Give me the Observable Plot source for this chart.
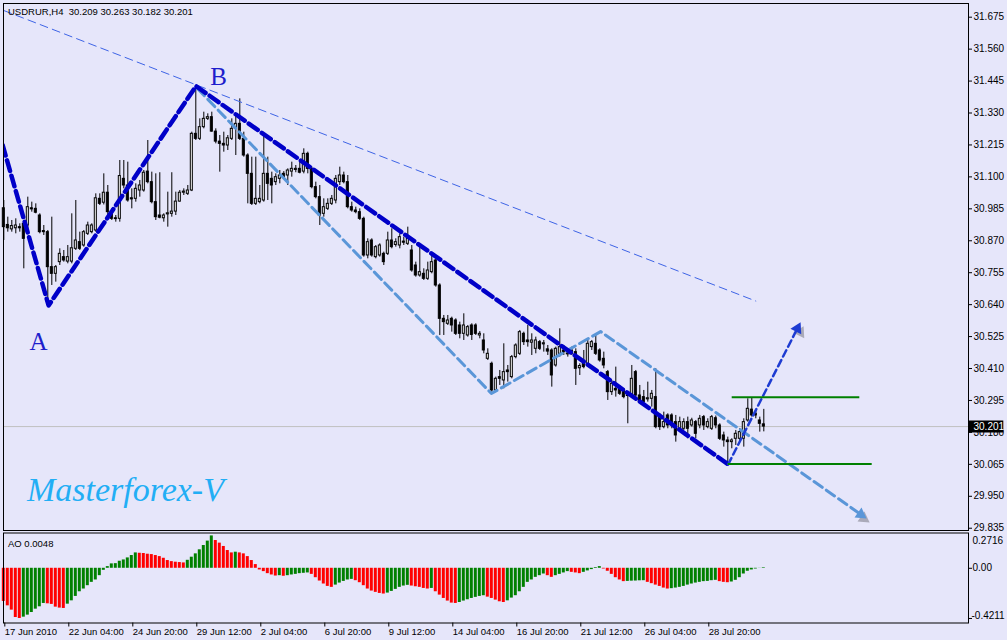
<!DOCTYPE html>
<html><head><meta charset="utf-8">
<script src="https://cdn.jsdelivr.net/npm/d3@7"></script>
<script src="https://cdn.jsdelivr.net/npm/@observablehq/plot@0.6"></script>
<style>
html,body{margin:0;padding:0;background:#E6E6FA;width:1007px;height:640px;overflow:hidden}
#chart svg{display:block}
</style></head><body><div id="chart"></div>
<script>
// ---------- data ----------
const headerText = "USDRUR,H4  30.209 30.263 30.182 30.201";
const open = [
30.987,30.927,30.911,30.915,30.919,30.931,30.925,30.987,30.985,30.961,
30.905,30.901,30.775,30.751,30.793,30.811,30.795,30.795,30.841,30.865,
30.853,30.895,30.901,30.907,31.021,31.007,31.043,30.975,30.951,30.949,
31.093,31.069,31.023,31.021,31.051,31.051,31.119,31.081,31.009,30.961,
30.951,30.965,30.967,30.975,31.011,31.043,31.039,31.051,31.255,31.237,
31.279,31.309,31.315,31.263,31.227,31.219,31.213,31.237,31.273,31.291,
31.237,31.177,31.111,31.003,31.009,31.015,31.111,31.093,31.081,31.093,
31.111,31.105,31.119,31.125,31.129,31.119,31.183,31.129,31.063,31.027,
30.967,30.985,31.003,31.015,31.081,31.105,31.081,30.991,30.979,30.973,
30.949,30.817,30.871,30.811,30.817,30.823,30.823,30.871,30.855,30.853,
30.867,30.859,30.835,30.781,30.745,30.751,30.733,30.757,30.799,30.709,
30.589,30.571,30.589,30.583,30.565,30.535,30.529,30.565,30.565,30.529,
30.511,30.445,30.427,30.331,30.379,30.367,30.403,30.379,30.451,30.463,
30.535,30.511,30.503,30.481,30.505,30.497,30.479,30.475,30.421,30.463,
30.475,30.461,30.475,30.469,30.411,30.427,30.421,30.487,30.499,30.475,
30.445,30.397,30.325,30.337,30.337,30.331,30.311,30.313,30.397,30.313,
30.307,30.299,30.301,30.307,30.235,30.199,30.241,30.241,30.217,30.193,
30.193,30.217,30.205,30.217,30.205,30.235,30.199,30.193,30.231,30.205,
30.169,30.151,30.145,30.157,30.157,30.157,30.223,30.262,30.247,30.223,
30.209];
const high = [
31.015,30.955,30.943,30.949,30.931,30.943,31.027,31.009,31.003,30.967,
30.925,30.907,30.955,30.781,30.841,30.835,30.853,30.967,31.015,30.901,
30.907,30.937,30.931,31.039,31.039,31.111,31.069,30.985,30.961,31.159,
31.159,31.153,31.057,31.075,31.087,31.123,31.231,31.117,31.111,31.115,
30.967,31.045,31.115,31.045,31.051,31.057,31.069,31.261,31.417,31.309,
31.333,31.327,31.333,31.273,31.249,31.261,31.249,31.309,31.327,31.381,
31.261,31.183,31.171,31.171,31.069,31.249,31.171,31.117,31.111,31.123,
31.119,31.129,31.153,31.141,31.159,31.201,31.189,31.135,31.081,31.069,
31.021,31.021,31.033,31.105,31.135,31.117,31.105,31.009,30.991,30.985,
30.955,30.877,30.877,30.853,30.859,30.829,30.901,30.913,30.877,30.895,
30.883,30.919,30.853,30.793,30.853,30.769,30.793,30.823,30.805,30.715,
30.601,30.601,30.595,30.589,30.577,30.607,30.565,30.571,30.571,30.543,
30.535,30.481,30.433,30.379,30.403,30.499,30.421,30.457,30.499,30.547,
30.541,30.565,30.535,30.523,30.511,30.511,30.493,30.481,30.487,30.553,
30.493,30.475,30.487,30.481,30.427,30.475,30.511,30.511,30.535,30.481,
30.469,30.403,30.367,30.415,30.349,30.337,30.325,30.421,30.403,30.349,
30.331,30.361,30.331,30.409,30.247,30.253,30.247,30.247,30.241,30.235,
30.229,30.235,30.231,30.223,30.241,30.241,30.229,30.241,30.239,30.211,
30.181,30.163,30.157,30.187,30.193,30.229,30.301,30.305,30.259,30.235,
30.263];
const low = [
30.871,30.901,30.901,30.895,30.901,30.769,30.901,30.973,30.967,30.895,
30.889,30.661,30.709,30.721,30.781,30.793,30.787,30.787,30.835,30.835,
30.847,30.889,30.895,30.901,30.997,30.999,30.955,30.943,30.937,30.937,
31.057,31.009,30.985,31.009,31.027,31.045,31.075,31.003,30.943,30.949,
30.937,30.919,30.955,30.961,31.009,31.033,31.033,31.047,31.231,31.231,
31.273,31.303,31.261,31.219,31.117,31.189,31.195,31.231,31.177,31.231,
31.171,31.003,30.997,30.997,31.003,31.009,31.015,31.003,31.069,31.075,
31.093,31.069,31.099,31.115,31.111,31.111,31.111,31.057,31.021,30.925,
30.955,30.979,30.997,31.003,31.069,31.075,30.985,30.973,30.967,30.943,
30.811,30.805,30.811,30.805,30.811,30.781,30.817,30.841,30.847,30.841,
30.853,30.853,30.757,30.739,30.739,30.727,30.727,30.751,30.703,30.529,
30.529,30.565,30.541,30.529,30.517,30.511,30.523,30.511,30.529,30.517,
30.463,30.439,30.325,30.325,30.349,30.337,30.361,30.373,30.445,30.457,
30.493,30.487,30.457,30.463,30.475,30.469,30.457,30.343,30.415,30.451,
30.457,30.451,30.457,30.349,30.385,30.409,30.415,30.475,30.457,30.433,
30.409,30.295,30.313,30.307,30.313,30.301,30.211,30.307,30.307,30.283,
30.277,30.289,30.271,30.193,30.187,30.193,30.193,30.193,30.145,30.187,
30.187,30.157,30.199,30.157,30.193,30.187,30.193,30.187,30.193,30.151,
30.127,30.066,30.121,30.133,30.145,30.127,30.217,30.235,30.229,30.181,
30.182];
const close = [
30.919,30.915,30.923,30.925,30.915,30.877,30.991,30.983,30.971,30.901,
30.901,30.775,30.751,30.775,30.823,30.799,30.811,30.843,30.871,30.841,
30.901,30.925,30.925,31.023,31.003,31.043,30.973,30.949,30.948,31.103,
31.069,31.015,31.019,31.057,31.069,31.115,31.081,31.009,30.955,30.953,
30.961,30.969,30.975,31.011,31.043,31.047,31.051,31.255,31.237,31.279,
31.309,31.315,31.263,31.227,31.219,31.213,31.239,31.273,31.291,31.237,
31.177,31.111,31.003,31.021,31.021,31.111,31.075,31.069,31.099,31.105,
31.099,31.123,31.129,31.129,31.115,31.183,31.129,31.063,31.027,30.961,
30.991,31.003,31.021,31.093,31.105,31.081,30.991,30.979,30.973,30.949,
30.817,30.865,30.817,30.847,30.853,30.793,30.871,30.847,30.865,30.883,
30.863,30.877,30.763,30.745,30.757,30.733,30.763,30.793,30.709,30.589,
30.577,30.583,30.565,30.535,30.535,30.565,30.559,30.531,30.535,30.535,
30.475,30.463,30.331,30.373,30.373,30.397,30.397,30.451,30.493,30.541,
30.505,30.505,30.511,30.511,30.481,30.501,30.471,30.385,30.481,30.487,
30.469,30.465,30.463,30.409,30.419,30.415,30.499,30.505,30.463,30.439,
30.421,30.325,30.355,30.331,30.319,30.307,30.319,30.373,30.313,30.289,
30.289,30.303,30.319,30.199,30.199,30.217,30.205,30.211,30.169,30.217,
30.217,30.193,30.223,30.175,30.229,30.205,30.217,30.235,30.205,30.157,
30.151,30.145,30.151,30.175,30.181,30.217,30.265,30.241,30.241,30.211,
30.201];
const ao = [
-0.278,-0.315,-0.351,-0.413,-0.4211,-0.410,-0.393,-0.371,-0.343,-0.323,
-0.295,-0.298,-0.303,-0.326,-0.334,-0.337,-0.301,-0.273,-0.236,-0.197,
-0.174,-0.146,-0.118,-0.098,-0.062,-0.017,0.014,0.037,0.039,0.059,
0.070,0.087,0.107,0.129,0.126,0.124,0.118,0.115,0.107,0.098,
0.084,0.065,0.056,0.051,0.048,0.045,0.067,0.093,0.121,0.155,
0.191,0.228,0.2716,0.233,0.211,0.183,0.149,0.129,0.135,0.129,
0.121,0.098,0.065,0.031,-0.014,-0.028,-0.045,-0.056,-0.065,-0.062,
-0.067,-0.062,-0.056,-0.051,-0.045,-0.042,-0.039,-0.051,-0.079,-0.107,
-0.132,-0.152,-0.160,-0.141,-0.124,-0.110,-0.098,-0.093,-0.104,-0.121,
-0.146,-0.174,-0.191,-0.202,-0.211,-0.216,-0.208,-0.194,-0.177,-0.160,
-0.149,-0.143,-0.149,-0.155,-0.160,-0.169,-0.174,-0.169,-0.197,-0.225,
-0.253,-0.275,-0.292,-0.295,-0.287,-0.275,-0.264,-0.253,-0.244,-0.236,
-0.230,-0.242,-0.253,-0.267,-0.281,-0.287,-0.273,-0.250,-0.230,-0.197,
-0.160,-0.118,-0.098,-0.076,-0.062,-0.048,-0.062,-0.076,-0.062,-0.051,
-0.039,-0.028,-0.034,-0.039,-0.045,-0.034,-0.022,-0.011,0.006,0.014,
-0.006,-0.025,-0.051,-0.079,-0.098,-0.112,-0.110,-0.108,-0.107,-0.105,
-0.104,-0.118,-0.129,-0.141,-0.152,-0.166,-0.174,-0.171,-0.166,-0.160,
-0.152,-0.141,-0.132,-0.124,-0.118,-0.112,-0.110,-0.104,-0.101,-0.112,
-0.118,-0.121,-0.115,-0.101,-0.079,-0.048,-0.025,-0.014,-0.006,-0.001,
0.0048];
const aoLabel = "AO 0.0048";
const xTickIndex = [0,16,32,48,64,80,96,112,128,144,160,176];
const xTickLabels = ["17 Jun 2010","22 Jun 04:00","24 Jun 20:00","29 Jun 12:00","2 Jul 04:00","6 Jul 20:00","9 Jul 12:00","14 Jul 04:00","16 Jul 20:00","21 Jul 12:00","26 Jul 04:00","28 Jul 20:00"];
const priceTicks = [31.675,31.560,31.445,31.330,31.215,31.100,30.985,30.870,30.755,30.640,30.525,30.410,30.295,30.180,30.065,29.950,29.835];
const aoTicks = [0.2716, 0.00, -0.4211];
const lastPrice = 30.201;

// drawn objects (bar index, price)
const trendThin = [{i:0,p:31.699},{i:188,p:30.653}];
const wavePath = [{i:-0.3,p:31.215},{i:11.2,p:30.637},{i:48.05,p:31.427},{i:181.1,p:30.065}];
const upArrow = [{i:181.1,p:30.065},{i:199.2,p:30.577}];
const channelPath = [{i:48.4,p:31.418},{i:121.9,p:30.320},{i:149.2,p:30.543},{i:215.7,p:29.870}];
const levels = [{i1:182.1,i2:214,p:30.307},{i1:181.1,i2:217.1,p:30.066}];
const waveLabels = [{i:8.7,p:30.507,t:"A"},{i:53.7,p:31.461,t:"B"}];
const brand = [{i:30.4,p:29.972,t:"Masterforex-V"}];

// ---------- layout ----------
const W = 1007;
const xDomain = [0,250], xRange = [3.3,1003.3];
const yDomain = [29.8268,31.7243], yRange = [530,3];
const sx = Plot.scale({x:{type:"linear",domain:xDomain,range:xRange}});
const sy = Plot.scale({y:{type:"linear",domain:yDomain,range:yRange}});
function head(a,b,back){
  const x0=sx.apply(a.i), y0=sy.apply(a.p), x1=sx.apply(b.i), y1=sy.apply(b.p);
  const dx=x1-x0, dy=y1-y0, len=Math.hypot(dx,dy);
  return {i:sx.invert(x1-dx/len*back), p:sy.invert(y1-dy/len*back), rot:Math.atan2(dx,-dy)*180/Math.PI};
}
function shorten(pts,back){
  const a=pts[pts.length-2], b=pts[pts.length-1], h=head(a,b,back);
  return pts.slice(0,-1).concat([{i:h.i,p:h.p}]);
}
const upHead = head(upArrow[0],upArrow[1],7);
const chHead = head(channelPath[2],channelPath[3],7);
const upLine = shorten(upArrow,6);
const chLine = shorten(channelPath,6);

const candles = open.map((o,i)=>({i,o,h:high[i],l:low[i],c:close[i]}));
const font = "'Liberation Sans', Arial, sans-serif";
const serif = "'Liberation Serif', 'Times New Roman', serif";
const NAVY="#0000C8", LIGHT="#5A96D8", THIN="#3E64E6", UP="#1E3CD2", SH="#6E6E78";

const main = Plot.plot({
  width:W, height:531, marginLeft:3, marginRight:39, marginTop:3, marginBottom:1,
  style:{background:"transparent", fontFamily:font, fontSize:"10px", color:"black", overflow:"visible"},
  x:{type:"linear", domain:xDomain, range:xRange, axis:null, label:null},
  y:{type:"linear", domain:yDomain, range:yRange, axis:null, label:null},
  color:{type:"identity"},
  marks:[
    Plot.ruleY([lastPrice], {stroke:"#C0C0C0", strokeWidth:1}),
    // shadows
    Plot.line(wavePath, {x:"i", y:"p", stroke:SH, strokeOpacity:0.6, strokeWidth:5, strokeDasharray:"11,5", dx:3, dy:4, clip:true, ariaLabel:"shadow"}),
    Plot.line(chLine, {x:"i", y:"p", stroke:SH, strokeOpacity:0.55, strokeWidth:3.5, strokeDasharray:"10,5", dx:3, dy:4, clip:true, ariaLabel:"shadow"}),
    Plot.line(upLine, {x:"i", y:"p", stroke:SH, strokeOpacity:0.5, strokeWidth:3, strokeDasharray:"7,4", dx:3, dy:4, clip:true, ariaLabel:"shadow"}),
    Plot.dot([upHead, chHead], {x:"i", y:"p", symbol:"triangle", r:4.5, fill:SH, fillOpacity:0.5, stroke:null, rotate:"rot", dx:3, dy:4, ariaLabel:"shadow"}),
    // candles
    Plot.ruleX(candles, {x:"i", y1:"l", y2:"h", stroke:"black", strokeWidth:1}),
    Plot.rect(candles, {x1:d=>d.i-0.25, x2:d=>d.i+0.25, y1:d=>Math.min(d.o,d.c), y2:d=>Math.max(d.o,d.c), fill:d=>d.c>=d.o?"white":"black", stroke:"black", strokeWidth:1}),
    // drawn lines
    Plot.line(trendThin, {x:"i", y:"p", stroke:THIN, strokeWidth:1, strokeDasharray:"8,5", clip:true}),
    Plot.line(chLine, {x:"i", y:"p", stroke:LIGHT, strokeWidth:3, strokeDasharray:"10,5", clip:true}),
    Plot.dot([chHead], {x:"i", y:"p", symbol:"triangle", r:4.5, fill:LIGHT, stroke:null, rotate:"rot"}),
    Plot.line(wavePath, {x:"i", y:"p", stroke:NAVY, strokeWidth:4.5, strokeDasharray:"11,5", clip:true}),
    Plot.line(upLine, {x:"i", y:"p", stroke:UP, strokeWidth:2.5, strokeDasharray:"7,4", clip:true}),
    Plot.dot([upHead], {x:"i", y:"p", symbol:"triangle", r:4.5, fill:UP, stroke:null, rotate:"rot"}),
    Plot.ruleY(levels, {y:"p", x1:"i1", x2:"i2", stroke:"#008000", strokeWidth:2}),
    Plot.text(waveLabels, {x:"i", y:"p", text:"t", fontFamily:serif, fontSize:25, fill:"#1E1ECC"}),
    Plot.text(brand, {x:"i", y:"p", text:"t", fontFamily:serif, fontStyle:"italic", fontSize:34, fill:"#22AEF5"}),
    Plot.text([headerText], {frameAnchor:"top-left", text:d=>d, dx:4.5, dy:5, textAnchor:"start", lineAnchor:"top", fontSize:9.5, fill:"black"}),
    Plot.frame({stroke:"black"}),
    Plot.axisY({anchor:"right", ticks:priceTicks, tickSize:3, tickPadding:2, tickFormat:d=>d.toFixed(3), fontSize:10, label:null}),
    Plot.ruleY([lastPrice], {x1:sx.invert(W-39), x2:xDomain[1], stroke:"black", strokeWidth:12}),
    Plot.text([lastPrice], {y:d=>d, frameAnchor:"right", dx:5, textAnchor:"start", text:d=>d.toFixed(3), fill:"white", fontSize:10})
  ]
});
main.querySelectorAll('[aria-label="shadow"]').forEach(g=>g.style.filter="blur(1.5px)");

const aoData = ao.map((v,i)=>({i, v, up: i>0 && v>ao[i-1]}));
const aoPlot = Plot.plot({
  width:W, height:109, marginLeft:3, marginRight:39, marginTop:1.5, marginBottom:17.5,
  style:{background:"transparent", fontFamily:font, fontSize:"10px", color:"black", overflow:"visible"},
  x:{type:"linear", domain:xDomain, range:xRange, axis:null, label:null},
  y:{type:"linear", domain:[-0.459,0.296], range:[91.5,1.5], axis:null, label:null},
  color:{type:"identity"},
  marks:[
    Plot.rect(aoData, {x1:d=>d.i-0.375, x2:d=>d.i+0.375, y1:0, y2:"v", fill:d=>d.up?"#008000":"#FF0000"}),
    Plot.frame({stroke:"black"}),
    Plot.text([aoLabel], {frameAnchor:"top-left", text:d=>d, dx:4.5, dy:7, textAnchor:"start", lineAnchor:"top", fontSize:9.5}),
    Plot.axisX({anchor:"bottom", ticks:xTickIndex, tickFormat:d=>xTickLabels[xTickIndex.indexOf(d)], tickSize:4, tickPadding:1, textAnchor:"start", dx:1, fontSize:9.5, label:null}),
    Plot.axisY({anchor:"right", ticks:[0,-0.4211], tickSize:3, tickFormat:()=>"", label:null}),
    Plot.text([aoTicks[0]], {y:d=>d, frameAnchor:"right", dx:4, dy:5, textAnchor:"start", text:d=>d.toFixed(4), fontSize:10}),
    Plot.text([aoTicks[1]], {y:d=>d, frameAnchor:"right", dx:4, textAnchor:"start", text:d=>d.toFixed(2), fontSize:10}),
    Plot.text([aoTicks[2]], {y:d=>d, frameAnchor:"right", dx:3, dy:-3, textAnchor:"start", text:d=>d.toFixed(4), fontSize:10})
  ]
});
const root = document.getElementById("chart");
root.appendChild(main);
root.appendChild(aoPlot);
</script></body></html>
